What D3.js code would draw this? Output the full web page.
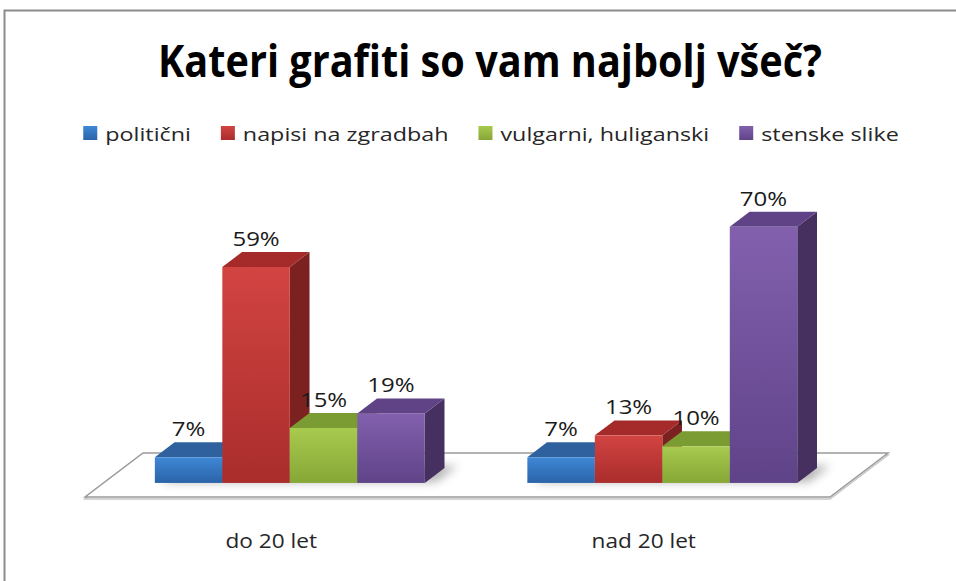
<!DOCTYPE html>
<meta charset="utf-8">
<html>
<head>
<script src="https://d3js.org/d3.v7.min.js"></script>
<style>
  body { margin: 0; background: #fff; }
  text { font-family: "Open Sans", "Liberation Sans", sans-serif; }
</style>
</head>
<body>
<div id="chart"></div>
<script>
    // data
    const categories = ["do 20 let", "nad 20 let"];
    const series = ["politični", "napisi na zgradbah", "vulgarni, huliganski", "stenske slike"];
    const politicni = [7, 7];
    const napisi = [59, 13];
    const vulgarni = [15, 10];
    const stenske = [19, 70];
    const values = [politicni, napisi, vulgarni, stenske];

    // colours: front light, front dark, top, side
    const colors = [
        ["#3f88d6", "#2a63a8", "#2e619e", "#22497c"],
        ["#d24442", "#a92d2c", "#a42b2a", "#7b2221"],
        ["#a8ca4e", "#86a736", "#7b9b33", "#5f7a25"],
        ["#8260ae", "#5f4388", "#5f4386", "#45305f"]
    ];

    const W = 956, H = 581;
    const svg = d3.select("#chart").append("svg")
        .attr("width", W).attr("height", H);

    const defs = svg.append("defs");
    colors.forEach((c, i) => {
        const g = defs.append("linearGradient").attr("id", "grad" + i)
            .attr("x1", 0).attr("y1", 0).attr("x2", 0).attr("y2", 1);
        g.append("stop").attr("offset", "0%").attr("stop-color", c[0]);
        g.append("stop").attr("offset", "100%").attr("stop-color", c[1]);
    });
    defs.append("filter").attr("id", "blur")
        .attr("x", "-50%").attr("y", "-50%").attr("width", "200%").attr("height", "200%")
        .append("feGaussianBlur").attr("stdDeviation", 5);

    // frame
    svg.append("rect")
        .attr("x", 4.5).attr("y", 10.5).attr("width", 1000).attr("height", 1000)
        .attr("fill", "none").attr("stroke", "#8c8c8c").attr("stroke-width", 2);

    // stretch text horizontally by factor k, returns the new width
    function stretch(sel, k) {
        let last = 0;
        sel.each(function () {
            const w = this.getComputedTextLength();
            last = w * k;
            d3.select(this).attr("textLength", last).attr("lengthAdjust", "spacingAndGlyphs");
        });
        return last;
    }

    // title
    svg.append("text")
        .attr("x", 490).attr("y", 77)
        .attr("text-anchor", "middle")
        .attr("font-size", 44).attr("font-weight", "bold")
        .attr("textLength", 664).attr("lengthAdjust", "spacingAndGlyphs")
        .attr("fill", "#000")
        .text("Kateri grafiti so vam najbolj všeč?");

    // legend
    const legend = svg.append("g");
    let lx = 0;
    series.forEach((s, i) => {
        const item = legend.append("g").attr("transform", `translate(${lx},0)`);
        item.append("rect")
            .attr("x", 0).attr("y", 126).attr("width", 14).attr("height", 14)
            .attr("fill", `url(#grad${i})`);
        const t = item.append("text")
            .attr("x", 22).attr("y", 141)
            .attr("font-size", 18.5).attr("fill", "#262626")
            .text(s);
        const w = stretch(t, 1.26);
        lx += 22 + w + 30;
    });
    const legW = lx - 30;
    legend.attr("transform", `translate(${491 - legW / 2},0)`);

    // 3d projection
    const DX = 58, DY = -44, F0 = 0.32, F1 = 0.66;
    const proj = (x, y, f) => [x + DX * f, y + DY * f];

    const x0 = d3.scaleBand().domain(categories).range([85, 830]);
    const x1 = d3.scaleBand().domain(series).range([0, x0.bandwidth()])
        .paddingInner(0).paddingOuter(0.76);
    const y = d3.scaleLinear().domain([0, 100]).range([497, 131]);

    // floor
    const floor = [proj(85, 497, 0), proj(830, 497, 0), proj(830, 497, 1), proj(85, 497, 1)];
    svg.append("polygon")
        .attr("points", floor.map(p => [p[0], p[1] + 2].join(",")).join(" "))
        .attr("fill", "none").attr("stroke", "#c8c8c8").attr("stroke-width", 1.5);
    svg.append("polygon")
        .attr("points", floor.map(p => p.join(",")).join(" "))
        .attr("fill", "#fff").attr("stroke", "#9a9a9a").attr("stroke-width", 1.5);

    const poly = (pts) => pts.map(p => p.join(",")).join(" ");

    // shadows on floor
    const shadows = svg.append("g").attr("filter", "url(#blur)").attr("opacity", 0.45);
    categories.forEach((c, ci) => {
        series.forEach((s, si) => {
            const xa = x0(c) + x1(s), xb = xa + x1.bandwidth();
            const y0 = y(0);
            shadows.append("polygon")
                .attr("points", poly([
                    proj(xa + 6, y0, F0 + 0.02), proj(xb + 10, y0, F0 + 0.02),
                    proj(xb + 10, y0, F1 + 0.05), proj(xa + 6, y0, F1 + 0.05)]))
                .attr("fill", "#555");
        });
    });

    // bars
    const bars = svg.append("g");
    const labels = [];
    categories.forEach((c, ci) => {
        series.forEach((s, si) => {
            const v = values[si][ci];
            const xa = x0(c) + x1(s), xb = xa + x1.bandwidth();
            const yt = y(v), yb = y(0);
            const g = bars.append("g");
            // side
            g.append("polygon")
                .attr("points", poly([proj(xb, yt, F0), proj(xb, yt, F1), proj(xb, yb, F1), proj(xb, yb, F0)]))
                .attr("fill", colors[si][3]);
            // top
            g.append("polygon")
                .attr("points", poly([proj(xa, yt, F0), proj(xb, yt, F0), proj(xb, yt, F1), proj(xa, yt, F1)]))
                .attr("fill", colors[si][2]);
            // front
            const a = proj(xa, yt, F0), b = proj(xb, yb, F0);
            g.append("rect")
                .attr("x", a[0]).attr("y", a[1])
                .attr("width", b[0] - a[0]).attr("height", b[1] - a[1])
                .attr("fill", `url(#grad${si})`);
            const lp = proj((xa + xb) / 2, yt, F1);
            labels.push({ x: a[0] + (b[0] - a[0]) / 2, y: lp[1] - 6, text: v + "%" });
        });
    });

    // value labels
    const lab = svg.append("g").selectAll("text")
        .data(labels).join("text")
        .attr("x", d => d.x).attr("y", d => d.y)
        .attr("text-anchor", "middle")
        .attr("font-size", 20).attr("fill", "#1a1a1a")
        .text(d => d.text);
    stretch(lab, 1.2);

    // category labels
    const cat = svg.append("g").selectAll("text")
        .data(categories).join("text")
        .attr("x", d => x0(d) + x0.bandwidth() / 2)
        .attr("y", 548)
        .attr("text-anchor", "middle")
        .attr("font-size", 20).attr("fill", "#262626")
        .text(d => d);
    stretch(cat, 1.13);
</script>
</body>
</html>
